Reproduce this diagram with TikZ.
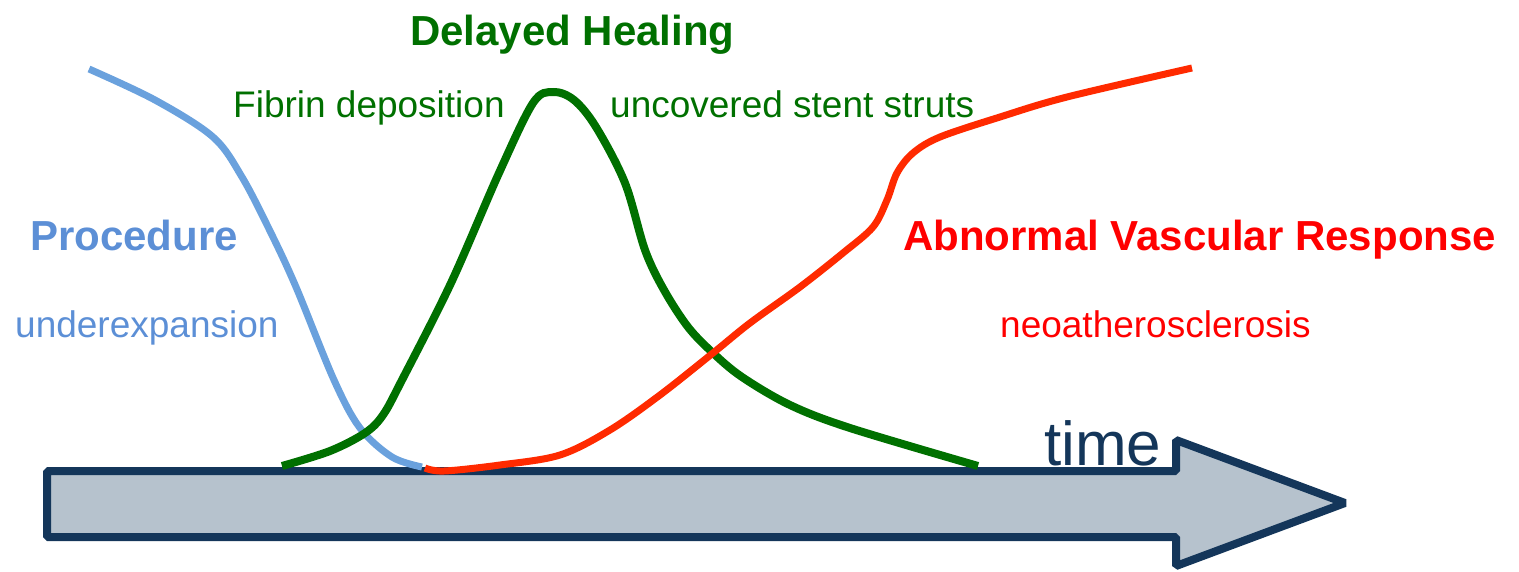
\documentclass[tikz,border=0pt]{standalone}
\usepackage{fontspec}
\setmainfont{Liberation Sans}
\definecolor{procblue}{HTML}{6AA1DD}
\definecolor{proctext}{HTML}{5C8FD6}
\definecolor{healgreen}{HTML}{007000}
\definecolor{avrred}{HTML}{FF2A00}
\definecolor{avrtext}{HTML}{FF0000}
\definecolor{navy}{HTML}{14365A}
\definecolor{shaftfill}{HTML}{B6C2CD}
\tikzset{
  curve/.style={line width=7pt, line cap=butt, smooth, tension=0.55},
  bigtitle/.style={font=\fontsize{42}{48}\selectfont\bfseries, anchor=base west, inner sep=0pt},
  subtitle/.style={font=\fontsize{37}{42}\selectfont, anchor=base west, inner sep=0pt},
}
\begin{document}
\begin{tikzpicture}[x=1pt, y=-1pt]
\useasboundingbox (0,0) rectangle (1519,571);
% time arrow
\coordinate (a1) at (47,471);
\coordinate (a2) at (1176,471);
\coordinate (a3) at (1176,440);
\coordinate (tip) at (1345,503);
\coordinate (a5) at (1176,566);
\coordinate (a6) at (1176,537);
\coordinate (a7) at (47,537);
\draw[navy, fill=shaftfill, line width=8pt, line join=bevel]
  (a1) -- (a2) -- (a3) -- (tip) -- (a5) -- (a6) -- (a7) -- cycle;
% curves
\draw[curve, procblue] plot coordinates {(89,69) (155,100) (213,137) (242,177) (271,233) (296,287) (334,380) (360,428) (392,457) (422,467)};
\draw[curve, healgreen, line width=8pt] plot coordinates {(282,466) (330,451) (365,433) (383,415) (402,380) (451,283) (499,173) (533,103) (553,92) (574,100) (596,127) (625,183) (645,250) (664,290) (688,327) (713,353) (742,377) (790,405) (850,428) (978,466)};
\draw[curve, avrred] plot coordinates {(425,468) (444,471) (500,465) (560,455) (610,430) (660,395) (713,353) (750,323) (800,287) (843,253) (873,227) (887,200) (897,173) (913,153) (940,137) (1000,117) (1067,97) (1192,68)};
% labels
\node[bigtitle, healgreen] (dh) at (410,45) {Delayed Healing};
\node[subtitle, healgreen] (fd) at (233,117) {Fibrin deposition};
\node[subtitle, healgreen] (us) at (610,117) {uncovered stent struts};
\node[bigtitle, proctext] (pr) at (30,250) {Procedure};
\node[subtitle, proctext] (ue) at (15,337) {underexpansion};
\node[bigtitle, avrtext] (avr) at (903,250) {Abnormal Vascular Response};
\node[subtitle, avrtext] (na) at (1000,337) {neoatherosclerosis};
\node[font=\fontsize{62}{70}\selectfont, anchor=base west, inner sep=0pt, navy] (tm) at (1044,465) {time};
\end{tikzpicture}
\end{document}
